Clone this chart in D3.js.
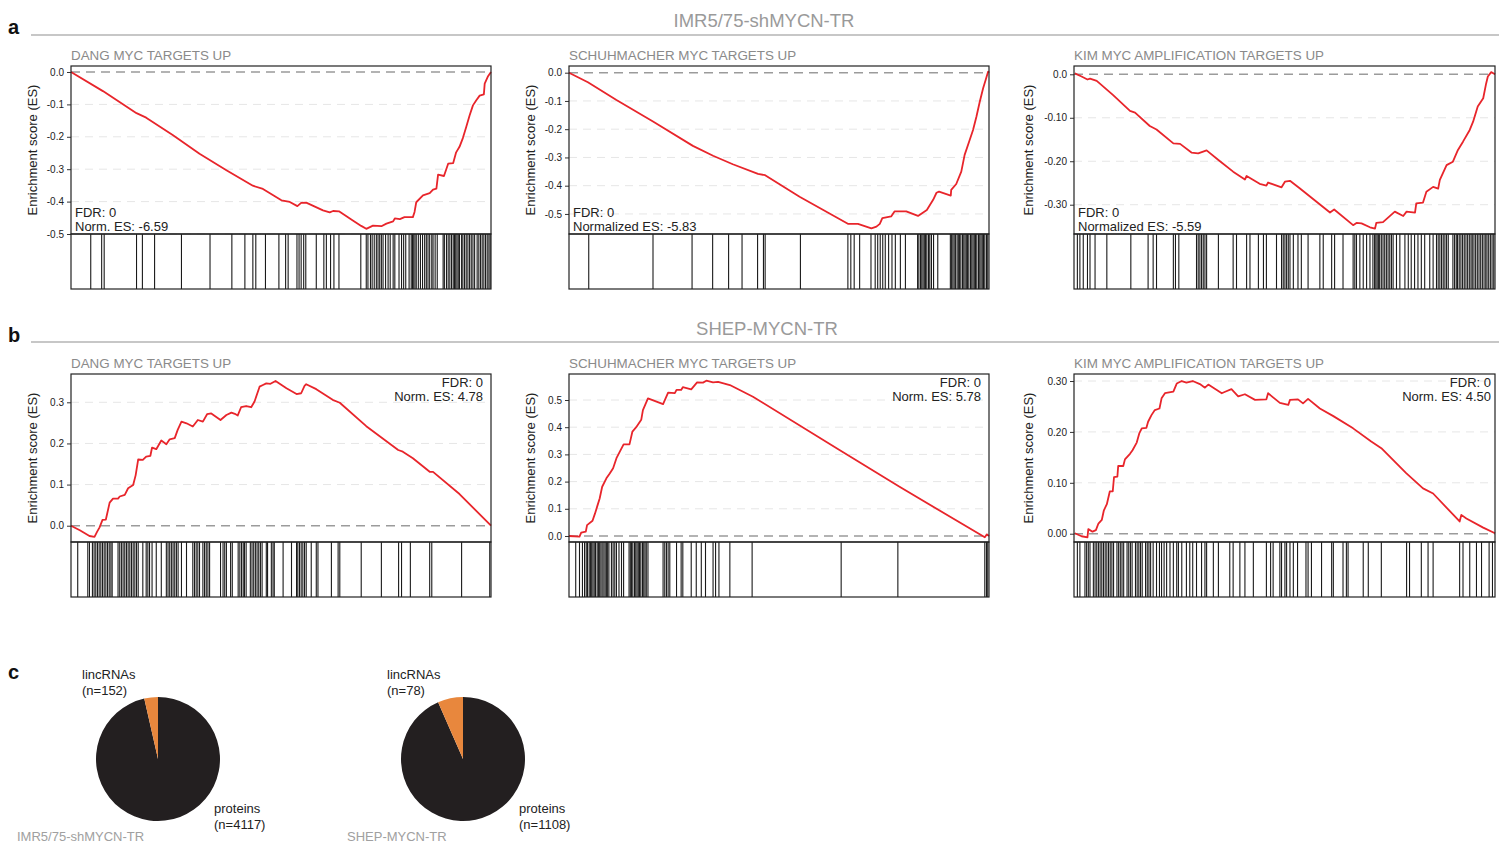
<!DOCTYPE html>
<html>
<head>
<meta charset="utf-8">
<script src="https://cdn.jsdelivr.net/npm/d3@7"></script>
<style>
  body { margin: 0; background: #fff; }
  text { font-family: "Liberation Sans", Arial, Helvetica, sans-serif; }
</style>
</head>
<body>
<script>
const svgWidth = 1505;
const svgHeight = 846;

// gene set titles per column
const setTitles = ['DANG MYC TARGETS UP', 'SCHUHMACHER MYC TARGETS UP', 'KIM MYC AMPLIFICATION TARGETS UP'];
const rowHeaders = ['IMR5/75-shMYCN-TR', 'SHEP-MYCN-TR'];

// running enrichment score, [rank %, ES]
const a1Curve = [[0,0],[7.6,-0.059],[15.6,-0.127],[17.9,-0.141],[24.3,-0.195],[30.6,-0.252],[37.0,-0.303],[43.3,-0.351],[45.7,-0.361],[50.1,-0.396],[52.1,-0.401],[53.9,-0.414],[54.8,-0.404],[56.0,-0.403],[60.0,-0.427],[61.6,-0.433],[62.4,-0.429],[63.8,-0.430],[67.1,-0.458],[69.1,-0.475],[70.3,-0.484],[71.9,-0.474],[73.9,-0.476],[75.1,-0.468],[76.7,-0.461],[77.1,-0.452],[78.3,-0.454],[79.4,-0.448],[81.4,-0.448],[81.8,-0.432],[82.2,-0.402],[83.8,-0.381],[85.4,-0.374],[86.2,-0.363],[87.0,-0.360],[87.4,-0.317],[88.8,-0.321],[89.8,-0.283],[91.0,-0.281],[91.7,-0.248],[92.5,-0.231],[93.3,-0.204],[94.1,-0.170],[94.9,-0.134],[95.7,-0.103],[96.5,-0.087],[97.3,-0.073],[98.3,-0.069],[98.5,-0.036],[99.3,-0.013],[100,0]];
const a2Curve = [[0,0],[4.5,-0.034],[11.3,-0.097],[20.0,-0.173],[29.5,-0.259],[34.3,-0.294],[39.0,-0.324],[45.0,-0.358],[46.7,-0.363],[54.9,-0.439],[66.4,-0.535],[68.8,-0.535],[72.0,-0.551],[73.2,-0.545],[74.0,-0.535],[74.6,-0.515],[76.7,-0.509],[77.5,-0.491],[80.3,-0.491],[83.1,-0.507],[85.2,-0.486],[86.7,-0.450],[87.5,-0.425],[88.1,-0.421],[90.9,-0.435],[91.0,-0.415],[92.2,-0.394],[93.4,-0.350],[94.2,-0.291],[95.4,-0.238],[96.2,-0.203],[97.0,-0.156],[97.8,-0.103],[98.6,-0.055],[99.2,-0.026],[99.8,0.004],[100,0]];
const a3Curve = [[0.2,0.002],[1.8,-0.005],[3.2,-0.012],[3.8,-0.010],[5.4,-0.015],[9.3,-0.048],[13.3,-0.084],[14.5,-0.088],[18.0,-0.119],[19.6,-0.127],[23.6,-0.159],[25.2,-0.160],[27.9,-0.180],[29.5,-0.182],[31.5,-0.175],[34.3,-0.197],[37.8,-0.224],[40.6,-0.242],[41.0,-0.234],[44.1,-0.252],[45.7,-0.256],[46.1,-0.249],[49.3,-0.260],[50.1,-0.247],[51.3,-0.245],[53.6,-0.262],[60.8,-0.318],[61.8,-0.311],[66.3,-0.347],[67.1,-0.342],[68.3,-0.343],[70.3,-0.352],[71.5,-0.355],[71.8,-0.342],[73.4,-0.340],[76.2,-0.316],[78.2,-0.326],[79.0,-0.316],[81.0,-0.318],[81.3,-0.297],[82.9,-0.295],[83.7,-0.270],[85.3,-0.259],[86.5,-0.263],[86.9,-0.243],[88.5,-0.209],[90.0,-0.201],[91.2,-0.174],[92.4,-0.155],[94.0,-0.128],[94.8,-0.109],[95.9,-0.074],[97.2,-0.055],[97.9,-0.021],[98.3,-0.005],[99.1,0.005],[99.7,0.002],[100,0]];
const b1Curve = [[0,0],[2.1,-0.011],[4.4,-0.025],[5.6,-0.027],[6.2,-0.015],[6.8,-0.004],[7.5,0.014],[8.3,0.015],[9.2,0.056],[10.0,0.066],[11.2,0.066],[11.6,0.071],[12.8,0.075],[13.6,0.091],[14.8,0.099],[15.4,0.123],[16.0,0.161],[17.1,0.160],[17.9,0.168],[18.9,0.170],[19.3,0.190],[20.3,0.186],[21.5,0.207],[22.7,0.198],[23.5,0.210],[24.7,0.213],[25.4,0.233],[26.3,0.253],[27.5,0.249],[29.0,0.241],[30.2,0.257],[31.4,0.253],[32.4,0.271],[33.4,0.273],[35.6,0.257],[37.0,0.269],[38.2,0.275],[39.0,0.272],[39.7,0.268],[40.5,0.288],[41.7,0.291],[42.9,0.288],[43.7,0.302],[44.9,0.338],[45.7,0.342],[46.5,0.346],[47.5,0.345],[48.7,0.352],[51.3,0.334],[53.7,0.320],[54.8,0.322],[55.6,0.340],[56.0,0.344],[58.4,0.332],[62.3,0.306],[64.0,0.299],[70.3,0.242],[77.9,0.184],[79.0,0.180],[81.4,0.164],[85.4,0.131],[86.2,0.131],[92.5,0.077],[100,0]];
const b2Curve = [[0,0],[2.5,-0.002],[2.9,0.012],[4.0,0.016],[4.3,0.040],[5.6,0.056],[6.2,0.083],[6.7,0.108],[7.3,0.138],[7.9,0.181],[8.9,0.212],[9.7,0.230],[10.5,0.249],[11.3,0.286],[12.1,0.310],[13.0,0.337],[14.4,0.337],[15.1,0.384],[16.0,0.400],[17.2,0.427],[17.6,0.463],[18.8,0.506],[22.4,0.485],[23.6,0.527],[25.2,0.525],[25.6,0.537],[26.7,0.537],[27.1,0.547],[29.1,0.539],[30.5,0.565],[31.9,0.564],[32.7,0.571],[34.3,0.565],[35.5,0.567],[38.3,0.555],[43.8,0.512],[64.4,0.316],[78.7,0.181],[99.0,-0.005],[99.5,0.006],[100,0]];
const b3Curve = [[0.2,0.001],[1.8,-0.005],[3.2,-0.007],[3.4,0.009],[4.4,0.004],[5.2,0.007],[5.8,0.020],[6.6,0.027],[7.1,0.046],[7.8,0.058],[8.5,0.083],[9.2,0.083],[9.5,0.111],[10.3,0.112],[10.5,0.133],[11.7,0.133],[12.1,0.146],[13.3,0.157],[13.9,0.164],[14.9,0.179],[15.5,0.197],[16.1,0.207],[17.2,0.208],[17.6,0.220],[18.4,0.233],[19.2,0.243],[20.3,0.246],[20.8,0.266],[21.6,0.276],[23.6,0.279],[24.4,0.295],[25.6,0.300],[26.7,0.297],[28.2,0.300],[29.9,0.294],[31.1,0.287],[31.9,0.293],[35.1,0.276],[35.9,0.279],[37.4,0.284],[39.0,0.270],[40.6,0.274],[43.0,0.263],[45.7,0.264],[46.1,0.276],[48.9,0.257],[50.9,0.253],[51.3,0.263],[53.2,0.264],[54.4,0.256],[55.6,0.265],[58.4,0.246],[61.6,0.231],[66.3,0.207],[70.6,0.181],[73.0,0.168],[78.9,0.119],[82.9,0.089],[85.3,0.079],[91.6,0.024],[92.0,0.037],[93.2,0.030],[97.2,0.012],[100,0.001]];

// positions of gene set members in the ranked list (rank %)
const a1Hits = [4.7,7.3,7.9,15.6,17.0,19.9,26.3,33.1,38.3,41.4,43.3,44.0,46.3,49.5,51.1,51.7,53.8,54.3,54.8,55.4,55.9,58.4,60.2,60.8,61.8,62.6,63.8,69.0,70.3,70.7,71.3,71.7,72.2,72.7,73.1,73.5,73.9,74.3,74.9,75.5,76.0,76.7,77.1,78.1,78.7,79.2,79.7,80.5,81.0,81.3,81.6,81.9,82.2,82.7,83.2,83.7,84.2,84.6,85.0,85.4,85.9,86.2,86.7,87.2,88.6,88.9,89.4,89.8,90.2,90.6,91.0,91.3,91.6,91.9,92.2,92.5,93.0,93.3,93.7,94.1,94.5,94.9,95.3,95.7,96.1,96.7,97.1,97.5,97.9,98.3,98.7,99.1,99.5,99.8];
const a2Hits = [4.7,20.0,29.3,34.2,38.0,41.2,44.9,46.3,46.7,55.1,66.4,67.1,67.9,69.2,71.9,72.9,73.5,74.1,74.7,75.3,76.1,76.9,77.7,78.9,80.1,83.0,83.3,83.7,84.0,84.3,84.6,84.9,85.2,85.6,85.9,86.3,86.8,87.8,90.8,91.1,91.4,91.7,92.0,92.4,92.7,93.0,93.3,93.7,94.0,94.3,94.6,94.9,95.2,95.6,95.9,96.2,96.5,96.8,97.1,97.5,97.8,98.1,98.4,98.7,99.0,99.4,99.7];
const a3Hits = [0.8,1.4,2.2,3.2,3.8,5.0,7.8,13.5,17.6,18.8,19.6,23.6,24.1,24.9,29.1,29.5,29.9,30.3,30.7,31.1,31.5,34.3,37.8,38.6,41.0,41.8,43.8,45.0,45.7,48.1,49.3,49.7,50.1,50.5,50.9,51.3,52.1,53.2,54.0,55.6,58.4,59.2,61.2,61.9,63.9,66.3,66.7,67.1,67.9,68.7,69.5,70.3,71.0,71.4,71.7,72.0,72.3,72.6,73.0,73.4,73.8,74.2,74.6,75.0,75.4,75.8,76.6,77.4,78.6,79.4,80.1,80.9,81.7,82.5,83.3,84.5,85.3,86.1,86.5,86.9,87.3,87.7,88.1,88.5,88.9,90.0,90.4,90.8,91.1,91.5,91.9,92.3,92.7,93.1,93.5,93.9,94.3,94.6,95.0,95.4,95.8,96.2,96.6,97.0,97.4,97.8,98.1,98.5,98.9,99.3,99.7];
const b1Hits = [1.6,4.0,4.4,5.1,5.5,5.9,6.3,6.7,7.1,7.5,7.9,8.3,8.7,9.1,9.5,9.8,11.2,11.6,12.0,12.4,12.8,13.2,13.6,14.0,14.4,14.8,15.2,15.6,16.0,17.1,17.9,18.3,18.7,19.3,20.3,21.5,22.7,23.1,23.5,23.9,24.3,24.7,25.1,25.5,26.3,27.5,29.0,29.4,29.8,30.2,30.6,31.4,31.8,32.2,32.6,33.0,35.6,36.2,36.6,37.0,38.0,38.4,39.8,40.2,40.6,41.0,41.3,41.7,42.7,43.1,43.5,43.9,44.3,44.7,45.1,45.5,46.5,46.8,47.7,48.1,48.4,50.5,52.5,53.7,54.0,54.4,54.8,55.2,55.6,56.0,57.2,58.4,58.8,62.0,63.6,64.0,69.1,73.9,78.0,78.7,80.8,85.4,85.9,93.0,99.7];
const b2Hits = [1.6,2.5,3.2,3.7,4.1,4.4,4.8,5.1,5.4,5.7,6.0,6.3,6.7,7.0,7.3,7.6,7.9,8.3,8.6,8.9,9.2,9.5,10.1,10.5,10.9,11.3,11.9,12.5,13.0,14.3,14.6,14.9,15.2,15.6,15.9,16.2,16.5,16.8,17.1,17.5,17.8,18.1,18.4,18.8,22.4,22.8,23.2,23.6,24.0,25.6,26.7,27.1,29.1,30.3,31.5,32.5,34.3,34.9,35.7,38.3,43.6,64.8,78.3,99.0,99.4,99.7];
const b3Hits = [0.8,1.4,2.6,3.0,3.4,3.8,4.6,5.0,5.4,5.8,6.2,6.6,7.0,7.4,7.8,8.2,8.6,9.0,9.4,10.2,10.6,11.0,11.4,11.8,12.6,13.0,13.4,13.8,14.6,15.0,15.4,15.8,16.2,17.0,17.4,17.8,18.2,18.8,19.6,20.3,20.8,21.4,22.0,22.8,23.6,24.4,24.8,25.6,26.7,27.5,28.2,29.1,30.3,31.1,31.5,33.1,34.3,37.0,37.8,39.4,40.6,42.6,45.7,46.7,47.3,48.9,49.3,50.1,50.5,51.3,52.1,53.1,55.1,55.6,56.4,58.8,61.2,61.6,63.9,64.7,65.1,68.7,69.9,73.0,79.0,79.7,82.5,84.1,85.3,91.6,92.4,94.0,95.6,96.8,98.6,99.4];

// y tick labels
const negTicks1 = [0, -0.1, -0.2, -0.3, -0.4, -0.5];
const negTicks2 = [0, -0.1, -0.2, -0.3];
const posTicks1 = [0, 0.1, 0.2, 0.3];
const posTicks2 = [0, 0.1, 0.2, 0.3, 0.4, 0.5];

// stats text
const fdrValues = ['0', '0', '0', '0', '0', '0'];
const nesLabels = ['Norm. ES: -6.59', 'Normalized ES: -5.83', 'Normalized ES: -5.59', 'Norm. ES: 4.78', 'Norm. ES: 5.78', 'Norm. ES: 4.50'];

// pie chart counts
const pieSamples = ['IMR5/75-shMYCN-TR', 'SHEP-MYCN-TR'];
const proteinCounts = [4117, 1108];
const lincCounts = [152, 78];

const loc = d3.formatLocale({decimal: '.', thousands: ',', grouping: [3], currency: ['', ''], minus: '-'});

const panels = [
  {row: 0, col: 0, curve: a1Curve, hits: a1Hits, ticks: negTicks1, fmt: '.1f', zero: '0.0', domain: [-0.5, 0.0185]},
  {row: 0, col: 1, curve: a2Curve, hits: a2Hits, ticks: negTicks1, fmt: '.1f', zero: '0.0', domain: [-0.571, 0.0237]},
  {row: 0, col: 2, curve: a3Curve, hits: a3Hits, ticks: negTicks2, fmt: '.2f', zero: '0.0', domain: [-0.3674, 0.0191]},
  {row: 1, col: 0, curve: b1Curve, hits: b1Hits, ticks: posTicks1, fmt: '.1f', zero: '0.0', domain: [-0.0396, 0.3688]},
  {row: 1, col: 1, curve: b2Curve, hits: b2Hits, ticks: posTicks2, fmt: '.1f', zero: '0.0', domain: [-0.0221, 0.5956]},
  {row: 1, col: 2, curve: b3Curve, hits: b3Hits, ticks: posTicks1, fmt: '.2f', zero: '0.00', domain: [-0.0163, 0.3138]}
];

const colLeft = [71, 569, 1074];
const colWidth = [420, 420, 421];
const labelOffset = [34, 34, 41];
const rowTop = [66, 374];
const esHeight = 168;
const hitsHeight = 55;

const svg = d3.select('body')
              .append('svg')
              .attr('width', svgWidth)
              .attr('height', svgHeight);

// section letters + headers
const letters = ['a', 'b'];
const headerY = [27, 335];
const headerX = [764, 767];
const ruleY = [35, 342];
rowHeaders.forEach((h, i) => {
  svg.append('text')
     .attr('x', 8).attr('y', headerY[i] + 7)
     .attr('font-size', 20).attr('font-weight', 'bold').attr('fill', '#111')
     .text(letters[i]);
  svg.append('line')
     .attr('x1', 31).attr('x2', 1499)
     .attr('y1', ruleY[i]).attr('y2', ruleY[i])
     .attr('stroke', '#b4b4b4').attr('stroke-width', 1.5);
  svg.append('text')
     .attr('x', headerX[i]).attr('y', headerY[i])
     .attr('text-anchor', 'middle')
     .attr('font-size', 18.5).attr('fill', '#9a9a9a')
     .text(h);
});

const line = d3.line();

panels.forEach((p, i) => {
  const left = colLeft[p.col];
  const w = colWidth[p.col];
  const top = rowTop[p.row];
  const g = svg.append('g');

  const x = d3.scaleLinear().domain([0, 100]).range([left, left + w]);
  const y = d3.scaleLinear().domain(p.domain).range([top + esHeight, top]);

  g.append('text')
   .attr('x', left).attr('y', top - 6)
   .attr('font-size', 13.4).attr('fill', '#8a8a8a')
   .text(setTitles[p.col]);

  // faint gridlines
  g.selectAll('.grid')
   .data(p.ticks.filter(t => t !== 0))
   .enter().append('line')
   .attr('x1', left).attr('x2', left + w)
   .attr('y1', d => y(d)).attr('y2', d => y(d))
   .attr('stroke', '#e6e6e6').attr('stroke-dasharray', '8,6');

  g.append('line')
   .attr('x1', left).attr('x2', left + w)
   .attr('y1', y(0)).attr('y2', y(0))
   .attr('stroke', '#9b9b9b').attr('stroke-width', 1.5)
   .attr('stroke-dasharray', '9,6');

  const f = loc.format(p.fmt);
  const axis = d3.axisLeft(y)
                 .tickValues(p.ticks)
                 .tickSize(4)
                 .tickPadding(3)
                 .tickFormat(d => d === 0 ? p.zero : f(d));
  const ax = g.append('g')
              .attr('transform', `translate(${left},0)`)
              .call(axis);
  ax.select('.domain').remove();
  ax.selectAll('text').attr('font-size', 10).attr('fill', '#222')
    .attr('font-family', '"Liberation Sans", Arial, sans-serif');
  ax.selectAll('line').attr('stroke', '#333');

  g.append('text')
   .attr('transform', `translate(${left - labelOffset[p.col]},${top + esHeight / 2}) rotate(-90)`)
   .attr('text-anchor', 'middle')
   .attr('font-size', 13).attr('fill', '#222')
   .text('Enrichment score (ES)');

  g.append('path')
   .datum(p.curve.map(d => [x(d[0]), y(d[1])]))
   .attr('d', line)
   .attr('fill', 'none')
   .attr('stroke', '#e8252b')
   .attr('stroke-width', 1.8)
   .attr('stroke-linejoin', 'round');

  // hit bars
  g.selectAll('.hit')
   .data(p.hits)
   .enter().append('line')
   .attr('x1', d => x(d)).attr('x2', d => x(d))
   .attr('y1', top + esHeight).attr('y2', top + esHeight + hitsHeight)
   .attr('stroke', '#1a1a1a').attr('stroke-width', 1.1);

  g.append('rect')
   .attr('x', left).attr('y', top)
   .attr('width', w).attr('height', esHeight)
   .attr('fill', 'none').attr('stroke', '#222').attr('stroke-width', 1.2);
  g.append('rect')
   .attr('x', left).attr('y', top + esHeight)
   .attr('width', w).attr('height', hitsHeight)
   .attr('fill', 'none').attr('stroke', '#222').attr('stroke-width', 1.2);

  // stats
  if (p.row === 0) {
    g.append('text').attr('x', left + 4).attr('y', top + esHeight - 17)
     .attr('font-size', 13).attr('fill', '#222').text('FDR: ' + fdrValues[i]);
    g.append('text').attr('x', left + 4).attr('y', top + esHeight - 3)
     .attr('font-size', 13).attr('fill', '#222').text(nesLabels[i]);
  } else {
    const rx = left + w - (p.col === 2 ? 4 : 8);
    g.append('text').attr('x', rx).attr('y', top + 13).attr('text-anchor', 'end')
     .attr('font-size', 13).attr('fill', '#222').text('FDR: ' + fdrValues[i]);
    g.append('text').attr('x', rx).attr('y', top + 27).attr('text-anchor', 'end')
     .attr('font-size', 13).attr('fill', '#222').text(nesLabels[i]);
  }
});

// panel c: pies
svg.append('text')
   .attr('x', 8).attr('y', 679)
   .attr('font-size', 20).attr('font-weight', 'bold').attr('fill', '#111')
   .text('c');

const pieCx = [158, 463];
const pieLabelX = [17, 347];
const pieCy = 759;
const pieR = 62;
const pie = d3.pie().sort(null).value(d => d.n);
const arc = d3.arc().innerRadius(0).outerRadius(pieR);
const pieColors = {proteins: '#231f20', lincRNAs: '#e8873d'};

pieSamples.forEach((s, i) => {
  const cx = pieCx[i];
  const data = [{k: 'proteins', n: proteinCounts[i]}, {k: 'lincRNAs', n: lincCounts[i]}];
  const g = svg.append('g').attr('transform', `translate(${cx},${pieCy})`);
  g.selectAll('path')
   .data(pie(data))
   .enter().append('path')
   .attr('d', arc)
   .attr('fill', d => pieColors[d.data.k]);

  svg.append('text').attr('x', cx - 76).attr('y', 679)
     .attr('font-size', 13).attr('fill', '#222').text('lincRNAs');
  svg.append('text').attr('x', cx - 76).attr('y', 695)
     .attr('font-size', 13).attr('fill', '#222').text('(n=' + lincCounts[i] + ')');
  svg.append('text').attr('x', cx + 56).attr('y', 813)
     .attr('font-size', 13).attr('fill', '#222').text('proteins');
  svg.append('text').attr('x', cx + 56).attr('y', 829)
     .attr('font-size', 13).attr('fill', '#222').text('(n=' + proteinCounts[i] + ')');
  svg.append('text').attr('x', pieLabelX[i]).attr('y', 841)
     .attr('font-size', 13).attr('fill', '#a0a0a0').text(s);
});
</script>
</body>
</html>
